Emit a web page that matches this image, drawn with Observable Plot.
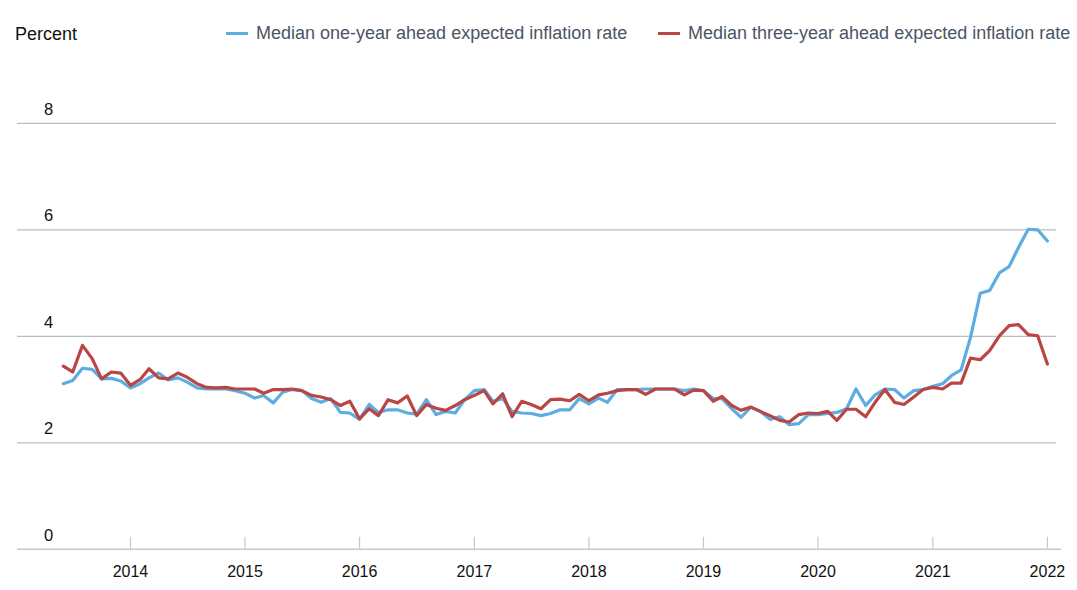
<!DOCTYPE html>
<html>
<head>
<meta charset="utf-8">
<script src="https://cdn.jsdelivr.net/npm/d3@7"></script>
<script src="https://cdn.jsdelivr.net/npm/@observablehq/plot@0.6"></script>
<style>
  html, body { margin: 0; padding: 0; background: #fff; }
  body { width: 1077px; height: 590px; overflow: hidden; font-family: "Liberation Sans", Arial, sans-serif; }
  #header { position: relative; height: 60px; width: 1077px; }
  #header .unit { position: absolute; left: 15px; top: 24px; font-size: 18px; color: #111; }
  #header .item { position: absolute; top: 23px; font-size: 18px; color: #4a5565; white-space: nowrap; display: flex; align-items: center; }
  #header .swatch { display: inline-block; width: 22px; height: 3px; margin-right: 8px; }
</style>
</head>
<body>
<div id="header">
  <div class="unit">Percent</div>
  <div class="item" style="left:226px"><span class="swatch" style="background:#5dade2"></span>Median one-year ahead expected inflation rate</div>
  <div class="item" style="left:658px"><span class="swatch" style="background:#b94545"></span>Median three-year ahead expected inflation rate</div>
</div>
<div id="chart"></div>
<script>
// Monthly survey, June 2013 – January 2022
const startYear = 2013, startMonth = 5; // June 2013 (0-based month)
const oneYear = [
  3.11, 3.17, 3.40, 3.38, 3.20, 3.21, 3.16,
  3.03, 3.11, 3.22, 3.31, 3.18, 3.22, 3.14, 3.03, 3.01, 3.01, 3.01, 2.98, 2.93,
  2.84, 2.89, 2.75, 2.95, 3.00, 2.98, 2.83, 2.76, 2.83, 2.57, 2.56, 2.44, 2.72, 2.57, 2.62, 2.62, 2.56, 2.54, 2.81, 2.53,
  2.59, 2.56, 2.81, 2.98, 3.00, 2.78, 2.83, 2.59, 2.56, 2.55, 2.51, 2.55, 2.62, 2.62, 2.83, 2.73, 2.84, 2.76, 3.00, 3.00,
  3.00, 3.01, 3.01, 3.01, 3.01, 2.98, 3.01, 2.98, 2.83, 2.83, 2.64, 2.48, 2.67, 2.59, 2.44, 2.49, 2.34, 2.36, 2.53, 2.53,
  2.55, 2.57, 2.64, 3.01, 2.70, 2.90, 3.01, 3.00, 2.84, 2.98, 3.00, 3.06, 3.11, 3.26, 3.37, 3.98, 4.81, 4.86, 5.19, 5.31, 5.67, 6.01, 6.00, 5.79
];
const threeYear = [
  3.44, 3.33, 3.83, 3.58, 3.20, 3.33, 3.31,
  3.08, 3.19, 3.39, 3.22, 3.20, 3.31, 3.23, 3.11, 3.04, 3.03, 3.04, 3.01, 3.01,
  3.01, 2.93, 3.00, 3.00, 3.01, 2.98, 2.89, 2.86, 2.81, 2.70, 2.78, 2.45, 2.64, 2.51, 2.81, 2.75, 2.88, 2.51, 2.72, 2.65,
  2.61, 2.70, 2.81, 2.89, 2.98, 2.73, 2.92, 2.49, 2.78, 2.72, 2.64, 2.81, 2.82, 2.79, 2.91, 2.79, 2.90, 2.93, 2.98, 3.00,
  3.00, 2.91, 3.01, 3.01, 3.01, 2.90, 2.99, 2.98, 2.78, 2.87, 2.70, 2.61, 2.67, 2.59, 2.51, 2.42, 2.39, 2.53, 2.56, 2.55,
  2.59, 2.42, 2.63, 2.63, 2.49, 2.76, 3.00, 2.76, 2.72, 2.86, 3.00, 3.04, 3.01, 3.12, 3.12, 3.59, 3.56, 3.73, 4.01, 4.20, 4.22, 4.03, 4.01, 3.48
];
const yTicks = [0, 2, 4, 6, 8];
const xTickYears = [2014, 2015, 2016, 2017, 2018, 2019, 2020, 2021, 2022];

const dates = oneYear.map((_, i) => new Date(Date.UTC(startYear, startMonth + i, 1)));
const rows = [];
dates.forEach((d, i) => {
  rows.push({date: d, value: oneYear[i], series: "one"});
  rows.push({date: d, value: threeYear[i], series: "three"});
});
const xTicks = xTickYears.map(y => new Date(Date.UTC(y, 0, 1)));

const chart = Plot.plot({
  width: 1077,
  height: 530,
  marginLeft: 17,
  marginRight: 21,
  marginTop: 62.8,
  marginBottom: 41.2,
  style: {fontFamily: "'Liberation Sans', Arial, sans-serif", fontSize: "16px", color: "#111", background: "#fff"},
  x: {type: "utc", domain: [new Date(Date.UTC(2013, 0, 6)), new Date(Date.UTC(2022, 0, 30))], label: null},
  y: {domain: [0, 8], label: null},
  marks: [
    Plot.gridY(yTicks.filter(t => t > 0), {stroke: "#bdbdbd", strokeOpacity: 1, strokeWidth: 1.2}),
    Plot.ruleY([0], {stroke: "#c8c8c8", strokeWidth: 1.5, insetRight: -5}),
    Plot.tickX(xTicks, {x: d => d, stroke: "#c8c8c8", strokeWidth: 1.2, insetTop: 414}),
    Plot.axisY(yTicks, {anchor: "left", label: null, tickSize: 0, tickFormat: d => String(d), textAnchor: "middle", dx: 40, dy: -14, fontSize: 16.5, fill: "#111"}),
    Plot.axisX(xTicks, {anchor: "bottom", label: null, tickSize: 0, tickPadding: 16, tickFormat: d3.utcFormat("%Y"), fontSize: 16, fill: "#111"}),
    Plot.line(rows, {x: "date", y: "value", z: "series", stroke: d => d.series === "one" ? "#5dade2" : "#b94545", strokeWidth: 3.2, strokeLinejoin: "round"})
  ]
});
document.getElementById("chart").appendChild(chart);
</script>
</body>
</html>
